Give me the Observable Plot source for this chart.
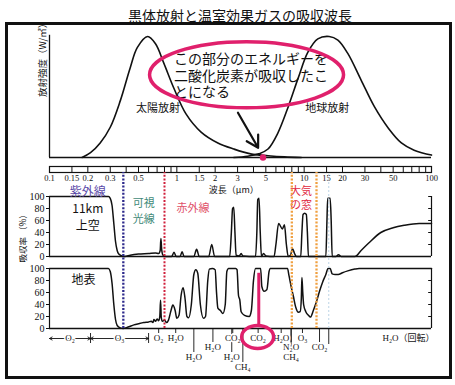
<!DOCTYPE html>
<html><head><meta charset="utf-8">
<script src="https://cdn.jsdelivr.net/npm/d3@7"></script>
<script src="https://cdn.jsdelivr.net/npm/@observablehq/plot@0.6"></script>
<style>
body{margin:0;background:#fff;}
#wrap{position:relative;width:455px;height:385px;overflow:hidden;background:#fff;}
#wrap svg{position:absolute;left:0;top:0;}
#title{position:absolute;left:128px;top:7px;font:14px "Noto Sans CJK JP",sans-serif;line-height:17px;color:#111;white-space:nowrap}
#box{position:absolute;left:5px;top:22px;width:447px;height:357px;border:3px solid #111;box-sizing:border-box}
</style></head><body>
<div id="wrap"><div id="title">黒体放射と温室効果ガスの吸収波長</div><div id="box"></div></div>
<script>
// ---------- data ----------
const solarWl  = [0.18, 0.21, 0.25, 0.30, 0.36, 0.43, 0.49, 0.59, 0.68, 0.79, 0.95, 1.18, 1.55, 2.1, 2.8, 3.8, 5.2, 7, 9.5];
const solarRad = [0, 4, 12, 25, 47, 74, 91, 100, 94, 78, 57, 36, 21, 12, 7, 3, 1.5, 0.5, 0];
const earthWl  = [2.8, 3.6, 4.4, 5.2, 6.2, 7.5, 9.0, 10.7, 12.8, 15.7, 18.4, 22, 28, 35.6, 46, 58, 73, 100];
const earthRad = [0, 1, 3, 7, 20, 42, 66, 87, 98, 100, 97, 86, 64, 42, 24, 12, 6, 2];

const upperWl  = [0.1, 0.29, 0.30, 0.31, 0.32, 0.33, 0.34, 0.35, 0.37, 0.39, 0.43, 0.5, 0.6, 0.68, 0.72, 0.74, 0.75, 0.76, 0.78, 0.82, 0.91, 0.95, 0.99, 1.06, 1.1, 1.14, 1.36, 1.43, 1.5, 1.78, 1.88, 1.98, 2.6, 2.68, 2.74, 2.8, 2.86, 2.92, 3.1, 3.2, 3.3, 4.15, 4.25, 4.32, 4.42, 4.52, 4.62, 4.8, 5.0, 5.8, 6.0, 6.3, 6.75, 7.0, 7.25, 7.5, 7.8, 8.1, 8.4, 8.7, 9.4, 9.6, 9.8, 10.1, 10.4, 10.6, 10.8, 14.8, 15.1, 15.3, 16.0, 16.3, 16.6, 17.8, 18.6, 19.5, 25, 28, 32, 40, 50, 61, 80, 100];
const upperAbs = [100, 100, 97, 85, 55, 25, 10, 4, 1, 0, 2, 4, 5, 6, 5, 10, 30, 12, 2, 0, 0, 7, 0, 0, 8, 0, 0, 12, 0, 0, 20, 0, 0, 40, 80, 82, 40, 2, 1, 5, 1, 0, 40, 95, 97, 40, 0, 5, 1, 0, 20, 55, 46, 53, 20, 0, 2, 13, 5, 0, 0, 40, 70, 72, 70, 40, 0, 0, 60, 97, 97, 60, 0, 0, 3, 0, 0, 10, 22, 40, 48, 52, 55, 55];

const groundWl  = [0.1, 0.29, 0.30, 0.31, 0.32, 0.33, 0.34, 0.36, 0.38, 0.42, 0.46, 0.5, 0.55, 0.6, 0.63, 0.65, 0.66, 0.68, 0.70, 0.72, 0.735, 0.745, 0.755, 0.77, 0.8, 0.83, 0.86, 0.9, 0.93, 0.97, 1.0, 1.04, 1.08, 1.12, 1.16, 1.2, 1.24, 1.3, 1.36, 1.41, 1.46, 1.53, 1.62, 1.68, 1.75, 1.8, 1.9, 2.0, 2.05, 2.1, 2.2, 2.3, 2.4, 2.47, 2.55, 2.9, 2.97, 3.05, 3.12, 3.2, 3.4, 3.7, 3.85, 4.0, 4.15, 4.55, 4.65, 4.85, 5.1, 5.3, 5.4, 7.4, 7.6, 7.9, 8.2, 8.6, 9.0, 9.3, 9.5, 9.6, 9.75, 9.9, 10.3, 10.8, 11.2, 11.8, 12.5, 13.2, 14.0, 14.8, 15.4, 16.0, 16.6, 17.5, 18.5, 20, 22, 25, 27, 100];
const groundAbs = [100, 100, 95, 75, 40, 15, 5, 1, 0, 3, 6, 8, 10, 11, 12, 10, 15, 12, 16, 13, 20, 47, 18, 12, 14, 10, 14, 30, 39, 30, 17, 22, 55, 68, 50, 20, 18, 40, 90, 98, 92, 40, 17, 20, 80, 99, 100, 98, 60, 34, 30, 25, 40, 95, 100, 100, 98, 55, 48, 28, 22, 20, 30, 80, 100, 100, 70, 62, 65, 95, 100, 100, 88, 70, 55, 35, 27, 28, 50, 85, 60, 40, 28, 22, 19, 30, 45, 62, 78, 90, 100, 100, 91, 90, 90, 93, 96, 99, 100, 100];

const rulerTicks  = [0.1, 0.15, 0.2, 0.3, 0.4, 0.5, 0.6, 0.7, 0.8, 0.9, 1, 1.5, 2, 3, 4, 5, 6, 7, 8, 9, 10, 15, 20, 30, 40, 50, 60, 70, 80, 90, 100];
const rulerLabels = [0.1, 0.15, 0.2, 0.3, 0.5, 1, 1.5, 2, 3, 5, 10, 15, 20, 30, 50, 100];
const absTicks    = [0, 20, 40, 60, 80, 100];

const uvVisEdge = 0.38, visIrEdge = 0.8, windowEdges = [8, 12.5], co2Peak = 15.6;
const uvBands = [{name: "O₂", from: 0.1, to: 0.21}, {name: "O₃", from: 0.21, to: 0.6}];
const gasRow1 = [["O₂", 0.72], ["H₂O", 0.98], ["CO₂", 2.75], ["CO₂", 4.35], ["H₂O", 6.6], ["O₃", 9.7]];
const gasRow2 = [["H₂O", 1.92], ["N₂O", 7.9], ["CO₂", 13.2]];
const gasRow3 = [["H₂O", 1.36], ["H₂O", 2.7], ["CH₄", 7.9]];
const gasRow4 = [["CH₄", 3.3]];
const rotationBand = ["H₂O（回転）", 66];

// ---------- layout ----------
const W = 455, H = 385;
const CJK = '"Noto Sans CJK JP", sans-serif';
const SERIF = '"Liberation Serif", "DejaVu Serif", "Noto Sans CJK JP", serif';
const MAG = "#e0206c", PURPLE = "#2e2a8c", RED = "#d0203c", ORANGE = "#f0a040";
const INK = "#111";
const zip2 = (a, b) => a.map((w, i) => ({wl: w, v: b[i]}));
const frame = (top, bottom) => ({width: W, height: H, marginLeft: 49, marginRight: 24, marginTop: top, marginBottom: H - bottom});
const xOpt = {type: "log", domain: [0.1, 100], axis: null};
const style = {background: "transparent", fontFamily: SERIF, fontSize: "10px", color: INK};
const wrap = document.getElementById("wrap");

// ---------- top panel: black body radiation ----------
const chartA = Plot.plot({
  ...frame(36, 157), style, x: xOpt, y: {domain: [0, 100], axis: null},
  marks: [
    Plot.ruleX([0.1], {y1: 0, y2: 101, stroke: INK, strokeWidth: 1.3}),
    Plot.ruleY([0], {stroke: INK, strokeWidth: 1.3}),
    Plot.line(zip2(solarWl, solarRad), {x: "wl", y: "v", curve: "catmull-rom", stroke: INK, strokeWidth: 1.6}),
    Plot.line(zip2(earthWl, earthRad), {x: "wl", y: "v", curve: "catmull-rom", stroke: INK, strokeWidth: 1.6}),
    Plot.dot([{wl: 4.75, v: 0}], {x: "wl", y: "v", r: 3.2, fill: MAG}),
    Plot.arrow([{a: 3.02, b: 37, c: 4.35, d: 8}], {x1: "a", y1: "b", x2: "c", y2: "d", stroke: INK, strokeWidth: 2.2, headLength: 9}),
    Plot.text([{wl: 0.71, v: 40.5, t: "太陽放射"}, {wl: 15.2, v: 40.5, t: "地球放射"}], {x: "wl", y: "v", text: "t", fontFamily: CJK, fontSize: 11, fill: INK}),
    Plot.text([{wl: 0.95, v: 68, t: "この部分のエネルギーを\n二酸化炭素が吸収したこ\nとになる"}], {x: "wl", y: "v", text: "t", textAnchor: "start", lineAnchor: "middle", lineHeight: 1.2, fontFamily: CJK, fontSize: 14, fill: INK}),
    Plot.text(["放射強度（W/㎡）"], {frameAnchor: "left", dx: -7, rotate: -90, fontFamily: CJK, fontSize: 9.5, fill: INK})
  ]
});
wrap.appendChild(chartA);
{
  const sx = chartA.scale("x"), sy = chartA.scale("y");
  d3.select(chartA).append("ellipse")
    .attr("cx", sx.apply(3.56)).attr("cy", sy.apply(68)).attr("rx", 97).attr("ry", 33)
    .attr("fill", "none").attr("stroke", MAG).attr("stroke-width", 3.5);
}

// ---------- wavelength ruler ----------
const chartR = Plot.plot({
  ...frame(166, 172), style, x: xOpt,
  marks: [
    Plot.frame({stroke: INK, strokeWidth: 1.2}),
    Plot.ruleX(rulerTicks, {stroke: INK, strokeWidth: 1}),
    Plot.text(rulerLabels, {x: d => d, text: d => String(d), frameAnchor: "bottom", dy: 8, fill: INK, fontSize: 8.5}),
    Plot.text([{wl: 2.8, t: "波長（μm）"}], {x: "wl", text: "t", frameAnchor: "bottom", dy: 20, fontFamily: CJK, fontSize: 9, fill: INK})
  ]
});
wrap.appendChild(chartR);

// ---------- absorption panels ----------
function absorptionMarks(wl, abs) {
  return [
    Plot.ruleX([0.1, 100], {y1: 0, y2: 100, stroke: INK, strokeWidth: 1.2}),
    Plot.ruleY([0], {stroke: INK, strokeWidth: 1.3}),
    Plot.axisY(absTicks, {anchor: "left", tickSize: 3, tickPadding: 2, label: null, fontSize: 10}),
    Plot.ruleY(absTicks, {x1: 95, x2: 100, stroke: INK, strokeWidth: 1}),
    Plot.line(zip2(wl, abs), {x: "wl", y: "v", curve: "monotone-x", stroke: INK, strokeWidth: 1.5})
  ];
}

const chartB = Plot.plot({
  ...frame(196, 256), style, x: xOpt, y: {domain: [0, 100]},
  marks: [
    ...absorptionMarks(upperWl, upperAbs),
    Plot.text([
      {wl: 0.2, v: 108, t: "紫外線", c: "#5a4aa8"},
      {wl: 0.2, v: 79, t: "11km", c: INK},
      {wl: 0.2, v: 51, t: "上空", c: INK}
    ], {x: "wl", y: "v", text: "t", fill: d => d.c, fontFamily: CJK, fontSize: 12}),
    Plot.text([
      {wl: 0.55, v: 89, t: "可視", c: "#3f8a78"},
      {wl: 0.55, v: 61, t: "光線", c: "#3f8a78"},
      {wl: 1.34, v: 80, t: "赤外線", c: "#e05068"},
      {wl: 9.46, v: 109, t: "大気", c: "#e0283e"},
      {wl: 9.46, v: 85, t: "の窓", c: "#e0283e"}
    ], {x: "wl", y: "v", text: "t", fill: d => d.c, fontFamily: CJK, fontSize: 11})
  ]
});
wrap.appendChild(chartB);

const C_TOP = 268, C_BOT = 328;
const yC = row => (C_BOT - row) * 100 / (C_BOT - C_TOP);   // pixel row -> panel units
const rowY = [338, 347, 357, 367];
const gasText = (rows, r) => Plot.text(rows, {x: d => d[1], y: yC(rowY[r]), text: d => d[0], fill: INK, stroke: "white", strokeWidth: 3, paintOrder: "stroke", fontSize: 9});
const gasTick = (rows, r) => Plot.ruleX(rows, {x: d => d[1], y1: 0, y2: yC(rowY[r] - 5), stroke: INK, strokeWidth: 0.9});

const chartC = Plot.plot({
  ...frame(C_TOP, C_BOT), style, x: xOpt, y: {domain: [0, 100]},
  marks: [
    ...absorptionMarks(groundWl, groundAbs),
    Plot.text([{wl: 0.185, v: 81, t: "地表"}], {x: "wl", y: "v", text: "t", fontFamily: CJK, fontSize: 12, fill: INK}),
    Plot.text(["吸収率 （%）"], {frameAnchor: "left", dx: -26, dy: -36, rotate: -90, fontFamily: CJK, fontSize: 8.5, fill: INK}),
    // band edges
    Plot.ruleX([co2Peak], {y1: 0, y2: yC(172), stroke: "#bcd4e6", strokeWidth: 1, strokeDasharray: "2,2"}),
    Plot.ruleX([uvVisEdge], {y1: 0, y2: yC(172), stroke: PURPLE, strokeWidth: 2.3, strokeDasharray: "2,1.6"}),
    Plot.ruleX([visIrEdge], {y1: 0, y2: yC(172), stroke: RED, strokeWidth: 2, strokeDasharray: "2,1.6"}),
    Plot.ruleX(windowEdges, {y1: 0, y2: yC(172), stroke: ORANGE, strokeWidth: 2.3, strokeDasharray: "2,1.6"}),
    // gas ticks
    gasTick(gasRow1, 0), gasTick(gasRow2, 1), gasTick(gasRow3, 2), gasTick(gasRow4, 3),
    Plot.ruleX([co2Peak], {y1: 0, y2: yC(rowY[1] - 3), stroke: INK, strokeWidth: 0.9}),
    // O2 / O3 arrows
    Plot.arrow(uvBands, {x1: d => Math.sqrt(d.from * d.to), x2: "from", y1: yC(338), y2: yC(338), stroke: INK, strokeWidth: 0.9, headLength: 5}),
    Plot.arrow(uvBands, {x1: d => Math.sqrt(d.from * d.to), x2: "to", y1: yC(338), y2: yC(338), stroke: INK, strokeWidth: 0.9, headLength: 5}),
    Plot.ruleX([0.21, 0.6], {y1: yC(333), y2: yC(343), stroke: INK, strokeWidth: 0.9}),
    Plot.text(uvBands, {x: d => Math.sqrt(d.from * d.to), y: yC(338), text: "name", fill: INK, stroke: "white", strokeWidth: 3, paintOrder: "stroke", fontSize: 9}),
    // gas labels
    gasText(gasRow1, 0), gasText(gasRow2, 1), gasText(gasRow3, 2), gasText(gasRow4, 3),
    Plot.text([rotationBand], {x: d => d[1], y: yC(rowY[0]), text: d => d[0], fill: INK, fontSize: 9}),
    // CO2 highlight
    Plot.ruleX([4.4], {y1: 92, y2: yC(326), stroke: MAG, strokeWidth: 3})
  ]
});
wrap.appendChild(chartC);
{
  const sx = chartC.scale("x"), sy = chartC.scale("y");
  d3.select(chartC).append("ellipse")
    .attr("cx", sx.apply(4.35)).attr("cy", sy.apply(yC(337))).attr("rx", 16).attr("ry", 11.5)
    .attr("fill", "none").attr("stroke", MAG).attr("stroke-width", 3.5);
}
</script>
</body></html>
